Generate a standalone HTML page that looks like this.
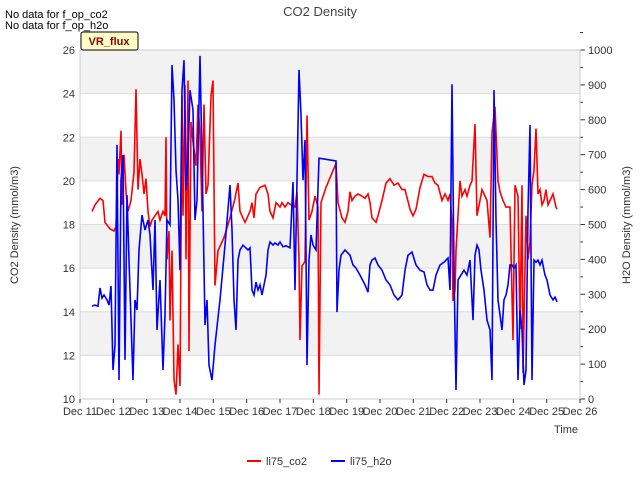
<!DOCTYPE html>
<html><head><meta charset="utf-8"><style>
body{margin:0;background:#fff;font-family:"Liberation Sans",sans-serif}
svg text{font-family:"Liberation Sans",sans-serif}
</style></head><body>
<svg id="chart" width="640" height="480">
<text x="320" y="16" text-anchor="middle" font-size="13" fill="#444">CO2 Density</text>
<text x="5" y="18" font-size="11" fill="#000">No data for f_op_co2</text>
<text x="5" y="29" font-size="11" fill="#000">No data for f_op_h2o</text>
<g id="plot"></g>
<g>
<rect x="81" y="32" width="57" height="18" fill="#ffffc8" stroke="#000" rx="2"/>
<text x="109" y="45" text-anchor="middle" font-size="11" font-weight="bold" fill="#8b0000">VR_flux</text></g>
<text x="18" y="225" transform="rotate(-90 18 225)" text-anchor="middle" font-size="11" fill="#333">CO2 Density (mmol/m3)</text>
<text x="630" y="225" transform="rotate(-90 630 225)" text-anchor="middle" font-size="11" fill="#333">H2O Density (mmol/m3)</text>
<text x="578" y="433" text-anchor="end" font-size="11" fill="#333">Time</text>
<g><line x1="247" y1="461" x2="261" y2="461" stroke="#f00" stroke-width="2"/><text x="266" y="465" font-size="11" fill="#333">li75_co2</text></g>
<g><line x1="331" y1="461" x2="345" y2="461" stroke="#00f" stroke-width="2"/><text x="350" y="465" font-size="11" fill="#333">li75_h2o</text></g>
</svg>
<script>
const co2Days=[11.36,11.45,11.60,11.69,11.75,11.90,12.02,12.08,12.14,12.17,12.23,12.26,12.32,12.38,12.44,12.53,12.62,12.68,12.74,12.80,12.86,12.92,12.98,13.04,13.10,13.16,13.25,13.34,13.40,13.49,13.55,13.58,13.61,13.67,13.70,13.76,13.82,13.88,13.94,14.00,14.06,14.09,14.15,14.18,14.24,14.27,14.33,14.39,14.48,14.54,14.60,14.66,14.72,14.78,14.84,14.93,14.99,15.05,15.14,15.32,15.50,15.65,15.74,15.80,15.95,16.10,16.16,16.22,16.28,16.40,16.55,16.64,16.70,16.79,16.88,17.00,17.06,17.15,17.24,17.33,17.45,17.51,17.57,17.60,17.66,17.75,17.81,17.87,17.96,18.05,18.14,18.17,18.23,18.38,18.68,18.74,18.86,18.95,19.04,19.10,19.16,19.25,19.34,19.46,19.55,19.64,19.70,19.76,19.88,19.94,20.06,20.18,20.30,20.42,20.54,20.66,20.75,20.90,20.99,21.08,21.20,21.32,21.44,21.56,21.65,21.74,21.86,21.95,22.04,22.10,22.16,22.19,22.25,22.28,22.40,22.46,22.55,22.61,22.70,22.76,22.85,22.91,23.00,23.06,23.15,23.21,23.30,23.36,23.45,23.54,23.60,23.69,23.78,23.90,23.99,24.05,24.14,24.20,24.26,24.29,24.38,24.44,24.50,24.56,24.62,24.68,24.74,24.80,24.86,24.92,24.98,25.04,25.10,25.19,25.28,25.31];
const co2Values=[18.6,18.9,19.2,19.1,18.1,17.8,17.7,17.9,21.0,20.3,22.3,18.9,21.2,19.5,18.6,19.1,20.4,24.2,19.6,21.0,20.3,19.4,20.1,18.6,17.9,18.2,18.4,18.6,18.2,18.6,18.4,22.0,16.4,17.7,13.6,16.8,10.9,10.2,12.5,10.6,23.9,18.4,24.4,16.4,24.6,12.2,22.7,21.8,20.7,23.5,22.1,18.6,23.5,19.4,19.8,23.9,24.6,15.2,16.8,17.4,18.3,19.2,19.9,18.6,18.1,18.6,19.0,18.3,19.4,19.7,19.8,19.4,18.6,18.3,19.0,18.8,19.0,18.8,19.0,18.9,18.8,19.5,16.4,12.7,16.1,16.3,23.0,18.2,18.6,19.3,18.8,10.2,19.0,19.7,20.8,19.0,18.3,18.1,18.6,19.5,19.1,19.3,19.4,19.3,19.2,19.4,19.0,18.3,18.1,18.4,19.1,19.9,20.1,19.8,19.9,19.6,19.6,18.7,18.4,18.7,19.7,20.3,20.2,20.2,19.9,19.8,19.1,19.4,19.1,19.4,18.1,14.5,15.0,16.8,20.0,19.3,19.6,19.3,19.8,20.0,22.6,18.4,19.1,19.6,19.3,19.1,17.4,22.2,23.4,20.0,19.5,19.1,18.8,18.8,12.7,19.8,19.3,13.2,19.8,11.2,18.4,16.4,17.2,19.8,20.5,22.4,19.4,19.6,18.9,19.1,19.6,18.9,19.1,19.4,18.8,18.7];
const h2oDays=[11.36,11.45,11.54,11.60,11.66,11.72,11.81,11.87,11.93,11.99,12.05,12.11,12.17,12.23,12.29,12.35,12.41,12.47,12.53,12.59,12.65,12.71,12.77,12.86,12.95,13.04,13.10,13.19,13.25,13.31,13.40,13.49,13.55,13.61,13.70,13.76,13.82,13.88,13.94,14.00,14.06,14.12,14.18,14.24,14.30,14.39,14.45,14.51,14.60,14.69,14.75,14.81,14.87,14.96,15.05,15.20,15.35,15.50,15.56,15.62,15.68,15.74,15.80,15.89,16.04,16.10,16.16,16.22,16.28,16.34,16.40,16.46,16.52,16.58,16.64,16.70,16.79,16.85,16.94,17.00,17.09,17.18,17.30,17.39,17.45,17.51,17.57,17.63,17.69,17.75,17.81,17.87,17.93,17.99,18.08,18.17,18.68,18.71,18.77,18.83,18.95,19.10,19.19,19.28,19.40,19.55,19.64,19.70,19.76,19.85,19.94,20.06,20.18,20.30,20.42,20.54,20.66,20.75,20.84,20.96,21.08,21.20,21.32,21.41,21.50,21.59,21.68,21.80,21.92,22.04,22.10,22.16,22.22,22.28,22.34,22.43,22.52,22.61,22.70,22.79,22.85,22.91,22.97,23.03,23.12,23.21,23.30,23.36,23.42,23.48,23.54,23.60,23.66,23.72,23.78,23.84,23.90,23.96,24.02,24.08,24.14,24.20,24.26,24.32,24.38,24.44,24.50,24.56,24.62,24.68,24.74,24.80,24.86,24.95,25.01,25.10,25.19,25.25,25.31];
const h2oValues=[266,269,266,318,289,298,284,269,324,83,155,728,54,627,699,112,584,398,226,54,284,255,427,527,484,513,470,312,513,198,341,83,241,513,499,957,857,656,570,369,885,971,599,685,885,828,513,570,983,542,212,284,97,54,155,284,441,613,484,284,198,398,427,441,427,433,312,298,335,312,327,298,327,355,427,450,441,447,441,450,436,439,433,622,312,627,943,814,627,742,97,398,470,441,427,690,682,249,369,412,427,412,384,375,355,327,306,384,398,404,384,369,341,327,298,284,298,369,412,421,384,369,364,327,312,312,355,384,392,404,312,902,369,26,341,355,369,355,398,226,412,441,427,369,312,226,198,54,885,513,284,241,198,284,298,327,384,384,375,384,54,255,198,40,83,542,785,54,398,392,398,384,398,355,341,298,284,292,278];
const xTicks=['Dec 11','Dec 12','Dec 13','Dec 14','Dec 15','Dec 16','Dec 17','Dec 18','Dec 19','Dec 20','Dec 21','Dec 22','Dec 23','Dec 24','Dec 25','Dec 26'];
const yLeftTicks=[10,12,14,16,18,20,22,24,26];
const yRightTicks=[0,100,200,300,400,500,600,700,800,900,1000];

const L=80,R=580,T=50,B=399,NS='http://www.w3.org/2000/svg';
const xS=d=>L+(d-11)/15*(R-L);
const yL=v=>B-(v-10)/16*(B-T);
const yR=v=>B-v/1000*(B-T);
const plot=document.getElementById('plot');
function mk(t,a,p){const e=document.createElementNS(NS,t);for(const k in a)e.setAttribute(k,a[k]);(p||plot).appendChild(e);return e;}
for(let i=0;i<yLeftTicks.length-1;i++){
 const band=mk('rect',{x:L,y:yL(yLeftTicks[i+1]),width:R-L,height:yL(yLeftTicks[i])-yL(yLeftTicks[i+1]),fill:i%2===1?'#f2f2f2':'#fff'});
 
 
}
yLeftTicks.forEach(v=>{
 mk('line',{x1:L,x2:R,y1:yL(v),y2:yL(v),stroke:'#dcdcdc'});
 const t=mk('text',{x:L-5,y:yL(v)+4,'text-anchor':'end','font-size':11,fill:'#333'});t.textContent=v;
 
 
});
yRightTicks.forEach(v=>{
 mk('line',{x1:R,x2:R+5,y1:yR(v),y2:yR(v),stroke:'#333'});
 mk('line',{x1:R,x2:R+3,y1:yR(v+50),y2:yR(v+50),stroke:'#333'});
 const t=mk('text',{x:R+8,y:yR(v)+4,'font-size':11,fill:'#333'});t.textContent=v;
 
 
});
mk('rect',{x:L,y:T,width:R-L,height:B-T,fill:'none',stroke:'#ccc'});
xTicks.forEach((s,i)=>{
 const x=xS(11+i);
 mk('line',{x1:x,x2:x,y1:B,y2:B+4,stroke:'#333'});
 const t=mk('text',{x:x,y:B+16,'text-anchor':'middle','font-size':11,fill:'#333'});t.textContent=s;
 
 
});
const pc=mk('polyline',{points:co2Days.map((d,i)=>xS(d)+','+yL(co2Values[i])).join(' '),fill:'none',stroke:'#f00','stroke-width':1.6});


const ph=mk('polyline',{points:h2oDays.map((d,i)=>xS(d)+','+yR(h2oValues[i])).join(' '),fill:'none',stroke:'#00f','stroke-width':1.6});


</script>
</body></html>
